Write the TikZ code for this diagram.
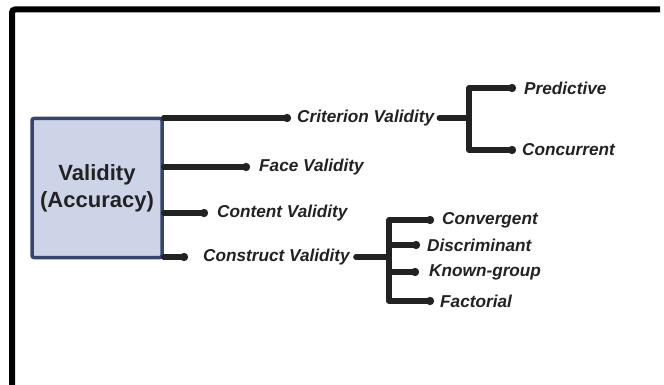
\documentclass[tikz,border=0pt]{standalone}
\usepackage{fontspec}
\setmainfont{Liberation Sans}
\usepackage{xcolor}
\usetikzlibrary{arrows.meta}

\definecolor{boxfill}{HTML}{CDD4E8}
\definecolor{boxline}{HTML}{34466F}
\definecolor{linedark}{HTML}{222222}

\begin{document}
\begin{tikzpicture}[x=1pt,y=-1pt,
    branch/.style={draw=linedark,line width=5.5pt,line cap=round,line join=round},
    dotend/.style={-{Circle[length=8pt]}},
    lbl/.style={anchor=west,inner sep=0pt,text=linedark,font=\fontsize{17.2}{20}\selectfont\bfseries\itshape}]
            \useasboundingbox (0,0) rectangle (664,385);
            \fill[white] (0,0) rectangle (664,385);
            % outer frame
            \draw[line width=6pt,rounded corners=3pt] (12,385) -- (12,9.5) -- (660,9.5);

            \node[draw=boxline,fill=boxfill,line width=3.5pt,rounded corners=2pt,
                  minimum width=130pt,minimum height=139pt,align=center,
                  font=\fontsize{22}{27}\selectfont\bfseries,text=linedark]
                  (main) at (97,188) {Validity\\(Accuracy)};

            \node[lbl] (crit) at (297,118) {Criterion Validity};
            \node[lbl] (face) at (259,167) {Face Validity};
            \node[lbl] (cont) at (217,213) {Content Validity};
            \node[lbl] (cons) at (203,257) {Construct Validity};

            \node[lbl] (pred) at (524,88) {Predictive};
            \node[lbl] (conc) at (522,150) {Concurrent};

            \node[lbl] (conv) at (442,220) {Convergent};
            \node[lbl] (disc) at (427,245) {Discriminant};
            \node[lbl] (know) at (429,272) {Known-group};
            \node[lbl] (fact) at (440,301) {Factorial};

            \coordinate (critj) at (469,118);
            \coordinate (consj) at (389,257);

            % from the box
            \draw[branch,dotend] (main.east |- crit) -- ([xshift=-6pt]crit.west);
            \draw[branch,dotend] (main.east |- face) -- ([xshift=-9pt]face.west);
            \draw[branch,dotend] (main.east |- cont) -- ([xshift=-9pt]cont.west);
            \draw[branch,dotend] (main.east |- cons) -- ([xshift=-15pt]cons.west);

            % criterion
            \draw[branch] ([xshift=5pt]crit.east) -- (critj);
            \draw[branch,{Circle[length=8pt]}-{Circle[length=8pt]}]
                  ([xshift=-8pt]pred.west) -- (critj |- pred) -- (critj |- conc) -- ([xshift=-6pt]conc.west);

            % construct
            \draw[branch] ([xshift=6pt]cons.east) -- (consj);
            \draw[branch,{Circle[length=8pt]}-{Circle[length=8pt]}]
                  ([xshift=-8pt]conv.west) -- (consj |- conv) -- (consj |- fact) -- ([xshift=-6pt]fact.west);
            \draw[branch,dotend] (consj |- disc) -- ([xshift=-7pt]disc.west);
            \draw[branch,dotend] (consj |- know) -- ([xshift=-10pt]know.west);
        \end{tikzpicture}
\end{document}
